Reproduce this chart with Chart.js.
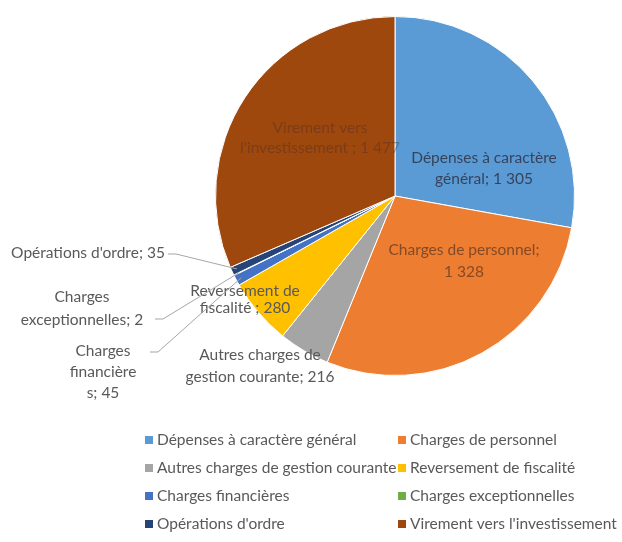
<!DOCTYPE html>
<html><head><meta charset="utf-8">
<script src="https://cdn.jsdelivr.net/npm/chart.js@4/dist/chart.umd.min.js"></script>
<style>html,body{margin:0;padding:0;background:#fff}#w{width:622px;height:542px;position:relative}</style>
</head><body><div id="w"><canvas id="c" width="622" height="542"></canvas></div>
<script>
const categories = ["Dépenses à caractère général","Charges de personnel","Autres charges de gestion courante","Reversement de fiscalité","Charges financières","Charges exceptionnelles","Opérations d'ordre","Virement vers l'investissement"];
const values = [1305,1328,216,280,45,2,35,1477];
const valueLabels = ["1 305","1 328","216","280","45","2","35","1 477"];
const labelLines = [
  ["Dépenses à caractère","général; "+valueLabels[0]],
  ["Charges de personnel;",valueLabels[1]],
  ["Autres charges de","gestion courante; "+valueLabels[2]],
  ["Reversement de","fiscalité ; "+valueLabels[3]],
  ["Charges","financière","s; "+valueLabels[4]],
  ["Charges","exceptionnelles; "+valueLabels[5]],
  ["Opérations d'ordre; "+valueLabels[6]],
  ["Virement vers","l'investissement ; "+valueLabels[7]]
];
const colors = ['#5B9BD5','#ED7D31','#A5A5A5','#FFC000','#4472C4','#70AD47','#264478','#9E480E'];

const FONT = '15.5px Lato, "Open Sans", sans-serif';
const labelLayout = [
  {dx:89, dy:-28, lh:21, color:'rgba(45,45,60,0.8)'},
  {dx:69, dy:65, lh:22, color:'rgba(60,40,30,0.6)'},
  {dx:-135, dy:170, lh:22, color:'#595959'},
  {dx:-150, dy:103, lh:17, color:'#595959'},
  {dx:-292, dy:176, lh:21, color:'#595959', lead:[-245,156]},
  {dx:-313, dy:112, lh:23, color:'#595959', lead:[-240,123]},
  {dx:-307, dy:57, lh:21, color:'#595959', lead:[-227,58]},
  {dx:-75, dy:-58, lh:20, color:'rgba(60,40,40,0.35)'}
];

const labelPlugin = {
  id:'labels',
  afterDatasetsDraw(chart){
    const ctx = chart.ctx;
    const meta = chart.getDatasetMeta(0);
    const a0 = meta.data[0];
    const cx = a0.x, cy = a0.y, r = a0.outerRadius;
    ctx.save();
    ctx.font = FONT;
    ctx.textBaseline = 'middle';
    meta.data.forEach((arc,i)=>{
      const L = labelLayout[i];
      const lines = labelLines[i];
      const bx = cx + L.dx, by = cy + L.dy;
      const top = by - (lines.length-1)*L.lh/2;
      if (L.lead){
        const mid = (arc.startAngle + arc.endAngle)/2;
        const px = cx + Math.cos(mid)*r*0.97, py = cy + Math.sin(mid)*r*0.97;
        const sx = cx + L.lead[0], sy = cy + L.lead[1];
        ctx.strokeStyle = '#a6a6a6';
        ctx.lineWidth = 1;
        ctx.beginPath();
        ctx.moveTo(sx, sy);
        ctx.lineTo(sx+8, sy);
        ctx.lineTo(px, py);
        ctx.stroke();
      }
      ctx.fillStyle = L.color;
      ctx.textAlign='center';
      lines.forEach((t,k)=>ctx.fillText(t, bx, top + k*L.lh));
    });
    // legend
    ctx.textAlign='left';
    const colX = [145, 398];
    const rowY = [440, 468, 496, 524];
    categories.forEach((name,i)=>{
      const x = colX[i%2], y = rowY[Math.floor(i/2)];
      ctx.fillStyle = colors[i];
      ctx.fillRect(x, y-4, 8, 8);
      ctx.fillStyle = '#595959';
      ctx.fillText(name, x+12, y);
    });
    ctx.restore();
  }
};

new Chart(document.getElementById('c'), {
  type:'pie',
  data:{labels:categories, datasets:[{data:values, backgroundColor:colors, borderColor:'#ffffff', borderWidth:1}]},
  options:{
    responsive:false, animation:false,
    layout:{padding:{left:215,right:47,top:16,bottom:166}},
    plugins:{legend:{display:false}, tooltip:{enabled:false}}
  },
  plugins:[labelPlugin]
});
</script></body></html>
